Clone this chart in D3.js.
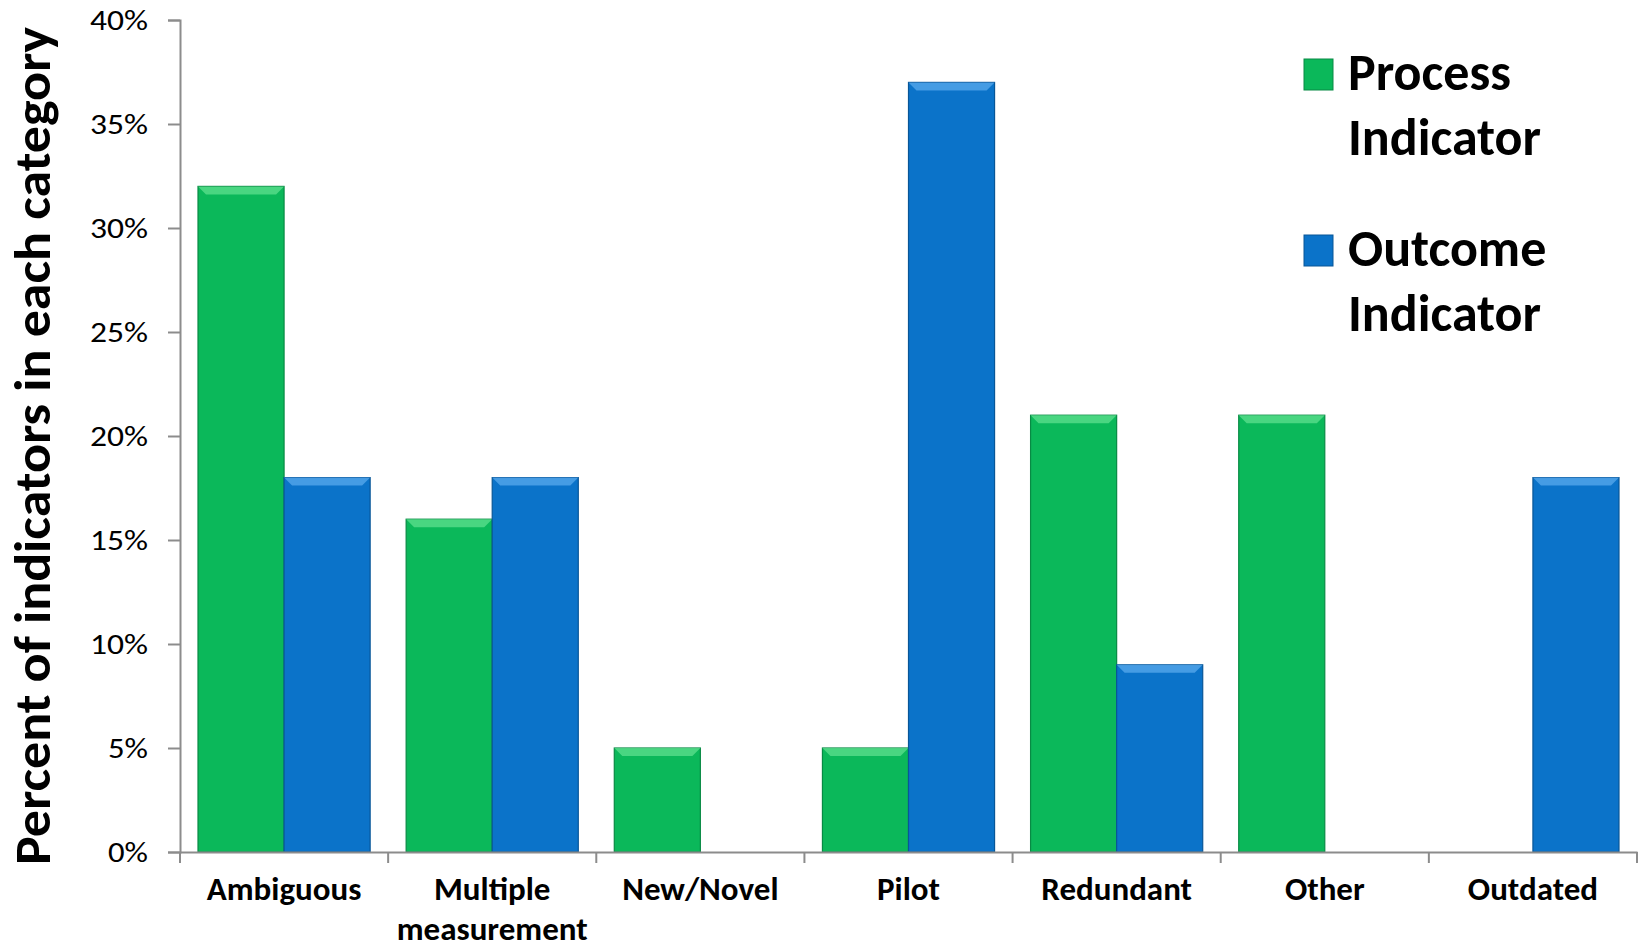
<!DOCTYPE html>
<html>
<head>
<meta charset="utf-8">
<script src="https://cdn.jsdelivr.net/npm/d3@7"></script>
<style>
  body { margin: 0; background: #fff; }
  text { font-family: Carlito, Calibri, Lato, sans-serif; font-weight: bold; fill: #000; }
</style>
</head>
<body>
<div id="chart"></div>
<script>
// chart values
var categories = ["Ambiguous", "Multiple measurement", "New/Novel", "Pilot", "Redundant", "Other", "Outdated"];
var seriesNames = ["Process Indicator", "Outcome Indicator"];
var processValues = [32, 16, 5, 5, 21, 21, 0];
var outcomeValues = [18, 18, 0, 37, 9, 0, 18];
var yTicks = [0, 5, 10, 15, 20, 25, 30, 35, 40];
var colors = ["#0bb85a", "#0b73c9"];
var lightColors = ["#5fe08f", "#5aa9ec"];

var svgWidth = 1643;
var svgHeight = 952;
var margin = { top: 20, right: 6, bottom: 100, left: 180 };
var width = svgWidth - margin.left - margin.right;
var height = svgHeight - margin.top - margin.bottom;

var svg = d3.select("#chart")
  .append("svg")
  .attr("width", svgWidth)
  .attr("height", svgHeight);

var chart = svg.append("g")
  .attr("transform", `translate(${margin.left}, ${margin.top})`);

var data = categories.map(function(c, i) {
  return { cat: c, values: [processValues[i], outcomeValues[i]] };
});

// scales
var x0 = d3.scaleBand()
  .domain(categories)
  .range([0, width])
  .paddingInner(0.173)
  .paddingOuter(0.0865);

var x1 = d3.scaleBand()
  .domain([0, 1])
  .range([0, x0.bandwidth()]);

var y = d3.scaleLinear()
  .domain([0, 40])
  .range([height, 0]);

// y axis
var leftAxis = d3.axisLeft(y)
  .tickValues(yTicks)
  .tickSize(12)
  .tickPadding(20)
  .tickFormat(d => d + "%");

var yAxisG = chart.append("g").call(leftAxis);
yAxisG.select(".domain").attr("stroke", "#8c8c8c").attr("stroke-width", 2);
yAxisG.selectAll(".tick line").attr("stroke", "#8c8c8c").attr("stroke-width", 2);
yAxisG.selectAll(".tick text")
  .style("font-family", "Carlito, Calibri, Lato, sans-serif")
  .style("font-weight", "normal")
  .style("font-size", "29px")
  .attr("textLength", d => d < 10 ? 40 : 58)
  .attr("lengthAdjust", "spacingAndGlyphs")
  .attr("fill", "#000");

// bars
var groups = chart.selectAll(".group")
  .data(data)
  .enter()
  .append("g")
  .attr("class", "group")
  .attr("transform", d => `translate(${x0(d.cat)}, 0)`);

var bars = groups.selectAll(".bar")
  .data(d => d.values.map((v, i) => ({ v: v, i: i })).filter(b => b.v > 0))
  .enter()
  .append("g")
  .attr("class", "bar");

bars.append("rect")
  .attr("x", d => x1(d.i))
  .attr("y", d => y(d.v))
  .attr("width", x1.bandwidth())
  .attr("height", d => height - y(d.v))
  .attr("fill", d => colors[d.i])
  .attr("stroke", d => d3.color(colors[d.i]).darker(0.8))
  .attr("stroke-width", 1.2);

// bevel on top of each bar
var bev = 8;
bars.append("polygon")
  .attr("points", function(d) {
    var xl = x1(d.i), xr = x1(d.i) + x1.bandwidth(), yt = y(d.v);
    return [[xl, yt], [xr, yt], [xr - bev, yt + bev], [xl + bev, yt + bev]].join(" ");
  })
  .attr("fill", d => lightColors[d.i])
  .attr("opacity", 0.75);

// x axis
var bottomAxis = d3.axisBottom(x0).tickSize(0).tickFormat("");
var xAxisG = chart.append("g")
  .attr("transform", `translate(0, ${height})`)
  .call(bottomAxis);
xAxisG.select(".domain").attr("stroke", "#8c8c8c").attr("stroke-width", 2);

// category boundary ticks
var step = x0.step();
chart.selectAll(".xtick")
  .data(d3.range(categories.length + 1))
  .enter()
  .append("line")
  .attr("x1", i => x0(categories[0]) - x0.paddingOuter() * step + i * step)
  .attr("x2", i => x0(categories[0]) - x0.paddingOuter() * step + i * step)
  .attr("y1", height)
  .attr("y2", height + 11)
  .attr("stroke", "#8c8c8c")
  .attr("stroke-width", 2);

// category labels
var labelWords = { "Multiple measurement": ["Multiple", "measurement"] };
chart.selectAll(".catlabel")
  .data(categories)
  .enter()
  .append("text")
  .attr("class", "catlabel")
  .attr("text-anchor", "middle")
  .attr("x", d => x0(d) + x0.bandwidth() / 2)
  .attr("y", height + 48)
  .style("font-size", "33px")
  .each(function(d) {
    var lines = labelWords[d] || [d];
    d3.select(this).selectAll("tspan")
      .data(lines)
      .enter()
      .append("tspan")
      .attr("x", x0(d) + x0.bandwidth() / 2)
      .attr("dy", (l, j) => j === 0 ? 0 : 40)
      .text(l => l);
  });

// y axis title
svg.append("text")
  .attr("transform", "translate(50, 446) rotate(-90)")
  .attr("text-anchor", "middle")
  .style("font-size", "50px")
  .attr("textLength", 838)
  .attr("lengthAdjust", "spacingAndGlyphs")
  .text("Percent of indicators in each  category");

// legend
var legendLines = [["Process", "Indicator"], ["Outcome", "Indicator"]];
var legend = svg.selectAll(".legend")
  .data(seriesNames)
  .enter()
  .append("g")
  .attr("class", "legend")
  .attr("transform", (d, i) => `translate(1304, ${59 + i * 176})`);

legend.append("rect")
  .attr("width", 29)
  .attr("height", 31)
  .attr("fill", (d, i) => colors[i])
  .attr("stroke", (d, i) => d3.color(colors[i]).darker(0.8))
  .attr("stroke-width", 1);

legend.append("text")
  .attr("x", 44)
  .attr("y", 31)
  .style("font-size", "52px")
  .each(function(d, i) {
    d3.select(this).selectAll("tspan")
      .data(legendLines[i])
      .enter()
      .append("tspan")
      .attr("x", 44)
      .attr("dy", (l, j) => j === 0 ? 0 : 65)
      .text(l => l);
  });
</script>
</body>
</html>
